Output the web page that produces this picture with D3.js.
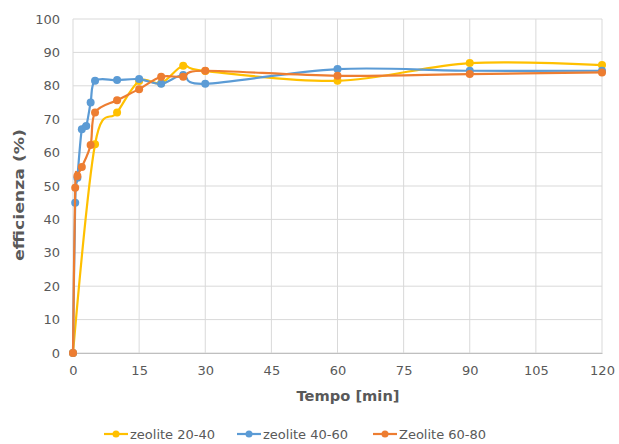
<!DOCTYPE html>
<html>
<head>
<meta charset="utf-8">
<script src="https://cdn.jsdelivr.net/npm/d3@7"></script>
<style>
  html, body { margin: 0; padding: 0; background: #fff; overflow: hidden; }
  svg { display: block; }
  text { font-family: "DejaVu Sans", sans-serif; }
</style>
</head>
<body>
<script>
// data
const seriesNames = ["zeolite 20-40", "zeolite 40-60", "Zeolite 60-80"];
const colors = ["#FFC000", "#5B9BD5", "#ED7D31"];

const t2040 = [0, 5, 10, 15, 20, 25, 30, 60, 90, 120];
const e2040 = [0, 62.5, 72, 81.4, 80.8, 86, 84.4, 81.5, 86.8, 86.2];

const t4060 = [0, 0.5, 1, 2, 3, 4, 5, 10, 15, 20, 25, 30, 60, 90, 120];
const e4060 = [0, 45, 52.5, 67, 68, 75, 81.5, 81.7, 82, 80.6, 83.2, 80.6, 85, 84.5, 84.5];

const t6080 = [0, 0.5, 1, 2, 4, 5, 10, 15, 20, 25, 30, 60, 90, 120];
const e6080 = [0, 49.5, 53, 55.7, 62.3, 72, 75.7, 79, 82.7, 82.7, 84.5, 83, 83.5, 84];

const xTicks = [0, 15, 30, 45, 60, 75, 90, 105, 120];
const yTicks = [0, 10, 20, 30, 40, 50, 60, 70, 80, 90, 100];

const w = 619, h = 444;
const margin = { top: 19, right: 17, bottom: 91, left: 73 };
const innerWidth = w - margin.left - margin.right;
const innerHeight = h - margin.top - margin.bottom;

const svg = d3.select("body").append("svg")
    .attr("width", w)
    .attr("height", h);

const xScale = d3.scaleLinear().domain([0, 120]).range([0, innerWidth]);
const yScale = d3.scaleLinear().domain([0, 100]).range([innerHeight, 0]);

const g = svg.append("g")
    .attr("transform", `translate(${margin.left},${margin.top})`);

// grid
g.selectAll(".hgrid").data(yTicks).enter().append("line")
    .attr("x1", 0).attr("x2", innerWidth)
    .attr("y1", d => yScale(d)).attr("y2", d => yScale(d))
    .attr("stroke", "#d9d9d9").attr("stroke-width", 1);
g.selectAll(".vgrid").data(xTicks).enter().append("line")
    .attr("x1", d => xScale(d)).attr("x2", d => xScale(d))
    .attr("y1", 0).attr("y2", innerHeight)
    .attr("stroke", "#d9d9d9").attr("stroke-width", 1);

// axes
const xAxis = d3.axisBottom(xScale).tickValues(xTicks).tickSize(0).tickPadding(13);
const yAxis = d3.axisLeft(yScale).tickValues(yTicks).tickSize(0).tickPadding(13);

const xg = g.append("g").attr("transform", `translate(0,${innerHeight})`).call(xAxis)
    .attr("font-family", null);
xg.select(".domain").attr("stroke", "#bfbfbf");
xg.selectAll("text").attr("fill", "#595959").style("font-size", "13px");

const yg = g.append("g").call(yAxis)
    .attr("font-family", null);
yg.select(".domain").remove();
yg.selectAll("text").attr("fill", "#595959").style("font-size", "13px");

svg.append("text")
    .text("Tempo [min]")
    .attr("x", 348)
    .attr("y", 401)
    .attr("text-anchor", "middle")
    .attr("textLength", 103)
    .attr("lengthAdjust", "spacingAndGlyphs")
    .attr("fill", "#595959")
    .style("font-size", "14px")
    .style("font-weight", "bold");

svg.append("text")
    .text("efficienza (%)")
    .attr("transform", `translate(24,195) rotate(-90)`)
    .attr("text-anchor", "middle")
    .attr("textLength", 132)
    .attr("lengthAdjust", "spacingAndGlyphs")
    .attr("fill", "#595959")
    .style("font-size", "14px")
    .style("font-weight", "bold");

// series
const series = [
    { name: seriesNames[0], color: colors[0], pts: t2040.map((t, i) => ({ t: t, e: e2040[i] })) },
    { name: seriesNames[1], color: colors[1], pts: t4060.map((t, i) => ({ t: t, e: e4060[i] })) },
    { name: seriesNames[2], color: colors[2], pts: t6080.map((t, i) => ({ t: t, e: e6080[i] })) }
];

const line = d3.line()
    .x(d => xScale(d.t))
    .y(d => yScale(d.e))
    .curve(d3.curveCardinal.tension(0));

series.forEach(s => {
    g.append("path")
        .datum(s.pts)
        .attr("d", line)
        .attr("fill", "none")
        .attr("stroke", s.color)
        .attr("stroke-width", 2.2);
    g.selectAll(null).data(s.pts).enter().append("circle")
        .attr("cx", d => xScale(d.t))
        .attr("cy", d => yScale(d.e))
        .attr("r", 4)
        .attr("fill", s.color);
});

// legend
const legendX = [104, 237, 373];
series.forEach((s, i) => {
    const lg = svg.append("g").attr("transform", `translate(${legendX[i]},434)`);
    lg.append("line").attr("x1", 0).attr("x2", 24).attr("y1", 0).attr("y2", 0)
        .attr("stroke", s.color).attr("stroke-width", 2.2);
    lg.append("circle").attr("cx", 12).attr("cy", 0).attr("r", 3.5).attr("fill", s.color);
    lg.append("text").text(s.name)
        .attr("x", 26).attr("y", 5)
        .attr("fill", "#595959")
        .style("font-size", "13px");
});
</script>
</body>
</html>
